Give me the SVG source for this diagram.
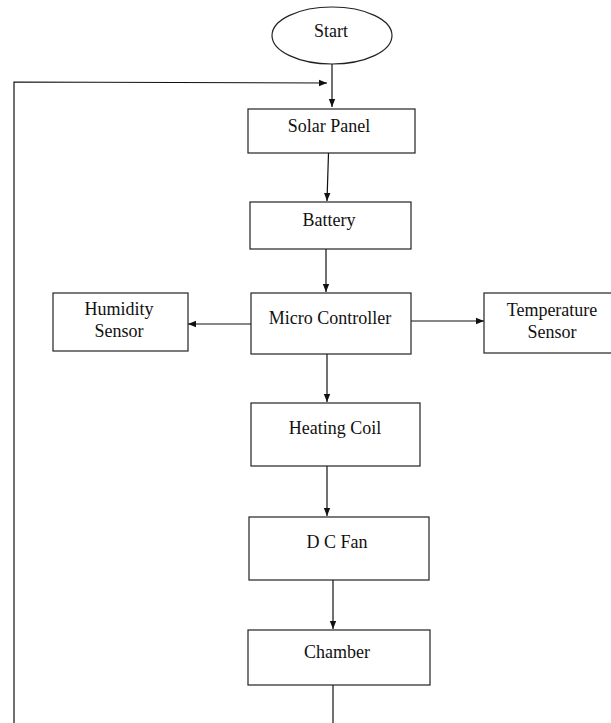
<svg xmlns="http://www.w3.org/2000/svg" width="611" height="723" viewBox="0 0 611 723">
<defs>
<style>
.box{fill:#fff;stroke:#222;stroke-width:1.2}
.t{font-family:"Liberation Serif","Times New Roman",serif;font-size:18px;fill:#111;text-anchor:middle}
.c{fill:none;stroke:#111;stroke-width:1.2}
</style>
<marker id="ah" viewBox="0 0 10 10" refX="10" refY="5" markerWidth="8" markerHeight="8" markerUnits="userSpaceOnUse" orient="auto">
<path d="M0,1 L10,5 L0,9 z" fill="#111"/>
</marker>
</defs>
<rect width="611" height="723" fill="#fff"/>
<g id="connectors">
<line class="c" x1="332" y1="64" x2="332" y2="107" marker-end="url(#ah)"/>
<polyline class="c" points="14,723 14,82 327,83" marker-end="url(#ah)"/>
<line class="c" x1="328.5" y1="153" x2="327" y2="201" marker-end="url(#ah)"/>
<line class="c" x1="326" y1="249" x2="326" y2="292" marker-end="url(#ah)"/>
<line class="c" x1="251" y1="324" x2="188" y2="324" marker-end="url(#ah)"/>
<line class="c" x1="411" y1="321" x2="484" y2="321" marker-end="url(#ah)"/>
<line class="c" x1="327" y1="354" x2="327" y2="402" marker-end="url(#ah)"/>
<line class="c" x1="327" y1="466" x2="327" y2="516" marker-end="url(#ah)"/>
<line class="c" x1="333" y1="580" x2="333" y2="629" marker-end="url(#ah)"/>
<line class="c" x1="333" y1="685" x2="333" y2="723"/>
</g>
<g id="start">
<ellipse class="box" cx="332" cy="35.5" rx="60" ry="28.5"/>
<text class="t" x="331" y="37">Start</text>
</g>
<g id="solar-panel">
<rect class="box" x="248" y="109" width="167" height="44"/>
<text class="t" x="329" y="132">Solar Panel</text>
</g>
<g id="battery">
<rect class="box" x="250" y="202" width="161" height="47"/>
<text class="t" x="329" y="226">Battery</text>
</g>
<g id="micro-controller">
<rect class="box" x="251" y="293" width="160" height="61"/>
<text class="t" x="330" y="324">Micro Controller</text>
</g>
<g id="humidity-sensor">
<rect class="box" x="53" y="293" width="135" height="58"/>
<text class="t" x="119" y="315">Humidity</text>
<text class="t" x="119" y="337">Sensor</text>
</g>
<g id="temperature-sensor">
<rect class="box" x="484" y="293" width="130" height="60"/>
<text class="t" x="552" y="316">Temperature</text>
<text class="t" x="552" y="338">Sensor</text>
</g>
<g id="heating-coil">
<rect class="box" x="251" y="403" width="169" height="63"/>
<text class="t" x="335" y="434">Heating Coil</text>
</g>
<g id="dc-fan">
<rect class="box" x="249" y="517" width="180" height="63"/>
<text class="t" x="337" y="548">D C Fan</text>
</g>
<g id="chamber">
<rect class="box" x="248" y="630" width="182" height="55"/>
<text class="t" x="337" y="658">Chamber</text>
</g>
</svg>
